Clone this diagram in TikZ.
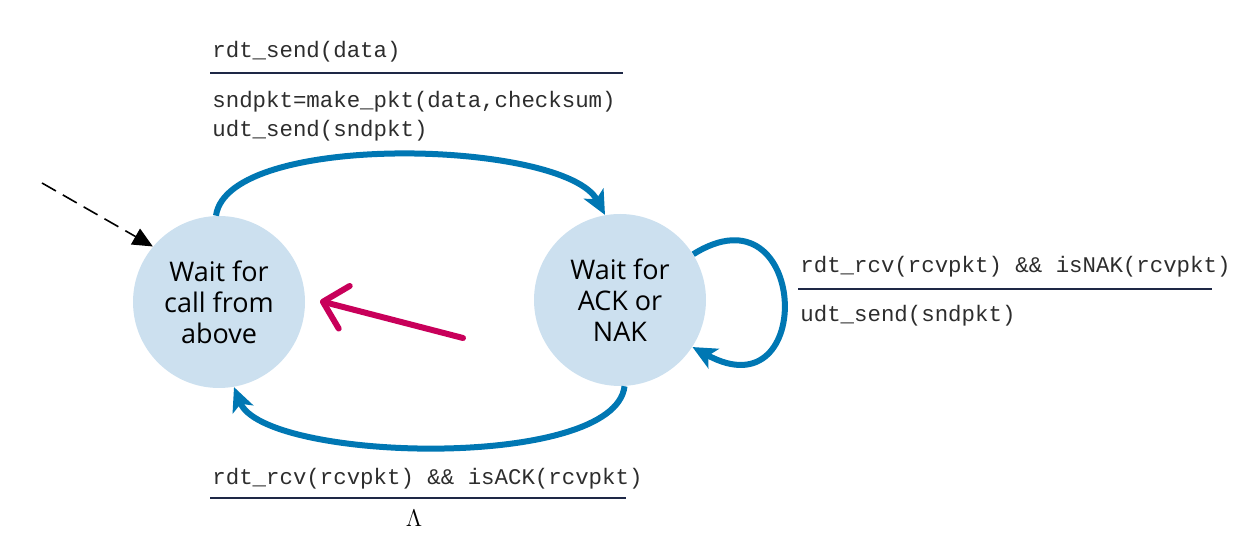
\documentclass[tikz,border=0pt]{standalone}
\usepackage{fontspec}
\setsansfont{Open Sans}
\setmonofont{Liberation Mono}
\usetikzlibrary{arrows.meta, positioning, calc}

\definecolor{stateblue}{RGB}{204,224,239}
\definecolor{arcblue}{RGB}{0,119,179}
\definecolor{hintred}{RGB}{200,0,90}
\definecolor{rulenavy}{RGB}{30,40,70}
\definecolor{codegray}{RGB}{45,45,45}

\tikzset{
  state/.style={circle, fill=stateblue, minimum size=86pt, inner sep=0pt, align=center,
    font=\sffamily\fontsize{13.5}{15.5}\selectfont, text=black},
  trans/.style={arcblue, line width=3pt, -{Stealth[length=12pt, width=11pt, inset=3pt]}},
  code/.style={anchor=base west, inner sep=0pt, text=codegray,
    font=\ttfamily\fontsize{11.2}{13}\selectfont},
  bar/.style={rulenavy, line width=1pt}
}

\begin{document}
\begin{tikzpicture}[x=0.5pt, y=-0.5pt]
\useasboundingbox (0,0) rectangle (1249,544);

% states
\node[state] (callwait) at (219,302) {Wait for\\call from\\above};
\node[state] (ackwait) at (620,300) {Wait for\\ACK or\\NAK};

% initial state
\coordinate (init) at (42,183);
\draw[black, line width=0.8pt, dash pattern=on 8pt off 4pt,
    -{Triangle[length=10pt, width=9pt]}] (init) -- (callwait.140);

% rdt_send
\draw[trans] (callwait.92) .. controls +(12,-85) and +(-40,-75) .. (ackwait.100);
\node[code] (sendev) at (212,58) {rdt\_send(data)};
\draw[bar] (210,73) -- (623,73);
\node[code] (sendact1) at (212,108) {sndpkt=make\_pkt(data,checksum)};
\node[code] (sendact2) at (212,137) {udt\_send(sndpkt)};

% NAK -> resend
\draw[trans] (ackwait.32) .. controls +(115,-72) and +(125,68) .. (ackwait.-33);
\node[code] (nakev) at (800,273) {rdt\_rcv(rcvpkt) \&\& isNAK(rcvpkt)};
\draw[bar] (798,289) -- (1212,289);
\node[code] (nakact) at (800,322) {udt\_send(sndpkt)};

% ACK -> back
\draw[trans] (ackwait.-87) .. controls +(-10,85) and +(30,75) .. (callwait.-80);
\node[code] (ackev) at (212,485) {rdt\_rcv(rcvpkt) \&\& isACK(rcvpkt)};
\draw[bar] (210,498) -- (626,498);
\node[anchor=base, inner sep=0pt, font=\fontsize{13}{15}\selectfont] (ackact) at (414,527) {$\Lambda$};

% highlight
\coordinate (hint) at (463,338);
\coordinate (hinttip) at (320,301);
\draw[hintred, line width=3pt, line cap=round,
    -{Straight Barb[length=11pt, width=22pt, round]}] (hint) -- (hinttip);
\end{tikzpicture}
\end{document}
